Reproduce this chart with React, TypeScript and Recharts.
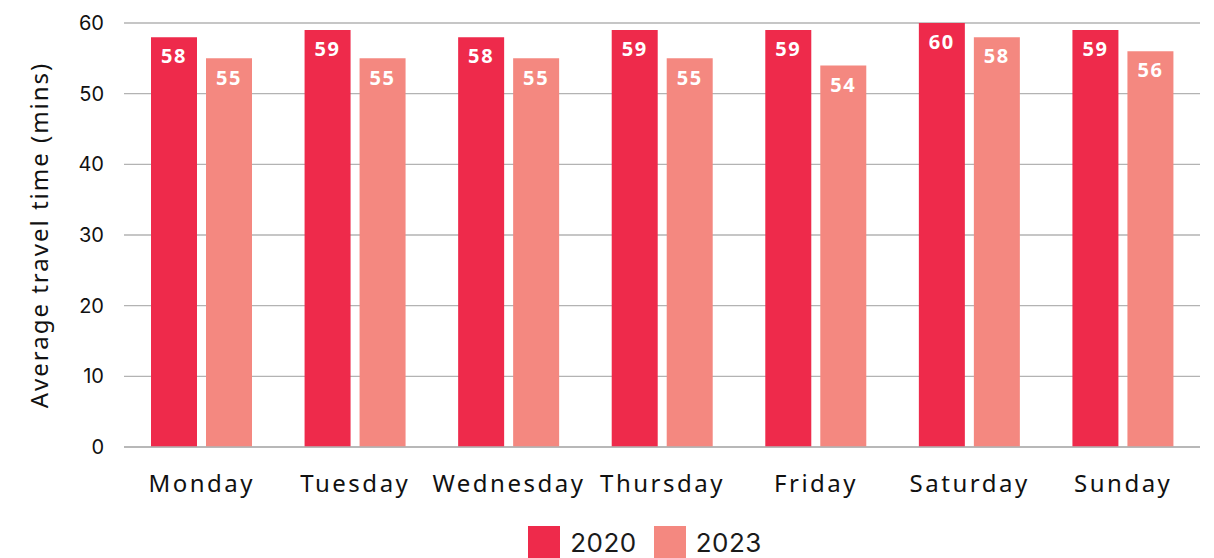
import { Bar, BarChart, CartesianGrid, LabelList, Legend, XAxis, YAxis } from 'recharts';

const DAYS = ['Monday', 'Tuesday', 'Wednesday', 'Thursday', 'Friday', 'Saturday', 'Sunday'];
const TIMES_2020 = [58, 59, 58, 59, 59, 60, 59];
const TIMES_2023 = [55, 55, 55, 55, 54, 58, 56];
const Y_TICKS = [0, 10, 20, 30, 40, 50, 60];

const RED = '#ee2a4b';
const SALMON = '#f48880';

const data = DAYS.map((day, i) => ({ day, y2020: TIMES_2020[i], y2023: TIMES_2023[i] }));

const barLabelStyle = {
  fill: '#fff',
  fontSize: 20,
  fontWeight: 700,
  fontFamily: '"Noto Sans", sans-serif',
  letterSpacing: 1.6,
};

function LegendContent() {
  const items = [
    { label: '2020', color: RED },
    { label: '2023', color: SALMON },
  ];
  return (
    <div
      style={{
        display: 'flex',
        justifyContent: 'center',
        alignItems: 'center',
        gap: 17,
        paddingTop: 15,
        paddingLeft: 90,
      }}
    >
      {items.map((it) => (
        <div key={it.label} style={{ display: 'flex', alignItems: 'center', gap: 10 }}>
          <span style={{ width: 32, height: 32, background: it.color, display: 'inline-block' }} />
          <span style={{ fontFamily: 'Inter, sans-serif', fontSize: 26, color: '#1a1a1a', letterSpacing: 0.5 }}>
            {it.label}
          </span>
        </div>
      ))}
    </div>
  );
}

export default function App() {
  return (
    <div style={{ position: 'absolute', left: 0, top: 0, width: 1214, height: 558, background: '#fff' }}>
      <BarChart
        width={1214}
        height={558}
        data={data}
        margin={{ top: 23, right: 14, left: 0, bottom: 0 }}
        barGap={9}
        barSize={46}
      >
        <CartesianGrid vertical={false} stroke="#b3b3b3" strokeWidth={1.3} />
        <XAxis
          dataKey="day"
          height={64}
          interval={0}
          tickLine={false}
          axisLine={{ stroke: '#b3b3b3', strokeWidth: 1.3 }}
          padding={{ left: 1, right: 0 }}
          tick={{ fontSize: 24, fill: '#111', fontFamily: '"Noto Sans", sans-serif', letterSpacing: 2.5 }}
          tickMargin={22}
        />
        <YAxis
          width={124}
          domain={[0, 60]}
          ticks={Y_TICKS}
          tickLine={false}
          axisLine={false}
          tickMargin={14}
          tick={{ fontSize: 20, fill: '#111', fontFamily: 'Inter, sans-serif' }}
          label={{
            value: 'Average travel time (mins)',
            angle: -90,
            position: 'insideLeft',
            dx: 34,
            dy: 0,
            style: {
              textAnchor: 'middle',
              fontSize: 24,
              fill: '#111',
              fontFamily: '"Noto Sans", sans-serif',
              letterSpacing: 2,
            },
          }}
        />
        <Legend verticalAlign="bottom" height={47} content={<LegendContent />} />
        <Bar dataKey="y2020" name="2020" fill={RED} isAnimationActive={false}>
          <LabelList dataKey="y2020" position="insideTop" offset={12} style={barLabelStyle} />
        </Bar>
        <Bar dataKey="y2023" name="2023" fill={SALMON} isAnimationActive={false}>
          <LabelList dataKey="y2023" position="insideTop" offset={12} style={barLabelStyle} />
        </Bar>
      </BarChart>
    </div>
  );
}
